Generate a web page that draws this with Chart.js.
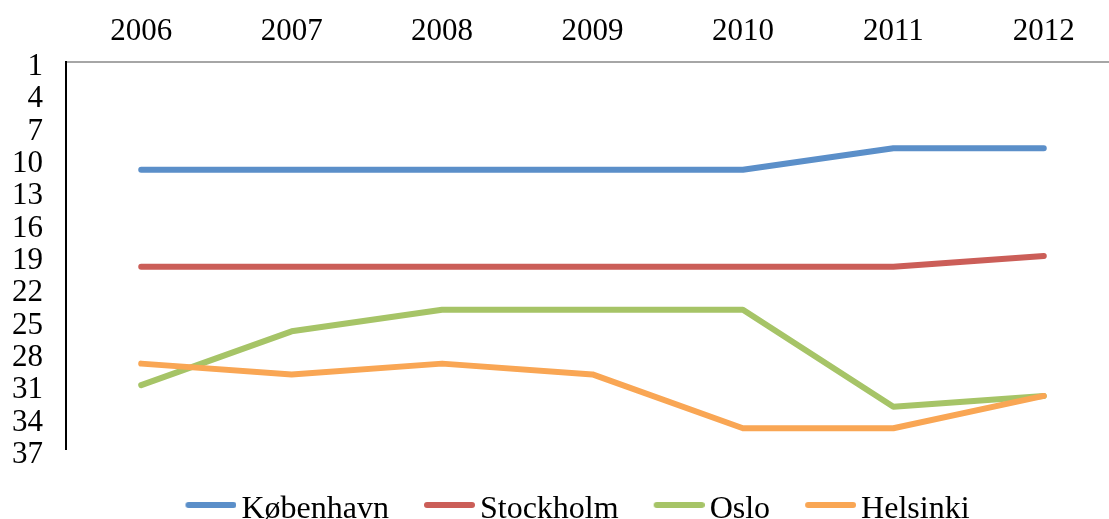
<!DOCTYPE html>
<html>
<head>
<meta charset="utf-8">
<script src="https://cdn.jsdelivr.net/npm/chart.js@4.4.1/dist/chart.umd.min.js"></script>
<style>
  html, body { margin: 0; padding: 0; background: #fff; overflow: hidden; }
  #wrap { position: relative; width: 1155px; height: 536px; }
</style>
</head>
<body>
<div id="wrap"><canvas id="rankChart"></canvas></div>
<script>
// years along the top axis
const years = ["2006", "2007", "2008", "2009", "2010", "2011", "2012"];

// rank per city (1 = best, axis is reversed)
const kobenhavn = [11, 11, 11, 11, 11, 9, 9];
const stockholm = [20, 20, 20, 20, 20, 20, 19];
const oslo = [31, 26, 24, 24, 24, 33, 32];
const helsinki = [29, 30, 29, 30, 35, 35, 32];

const cityNames = ["København", "Stockholm", "Oslo", "Helsinki"];
const cityColors = ["#5B8FC9", "#CB5E58", "#A6C467", "#F9A654"];

Chart.defaults.font.family = "'Liberation Serif', 'Times New Roman', serif";
Chart.defaults.font.size = 31;
Chart.defaults.color = "#000";

// legend swatch: a short thick line sitting just left of the text
function makeSwatch(color) {
    const c = document.createElement("canvas");
    c.width = 62;
    c.height = 20;
    const g = c.getContext("2d");
    g.strokeStyle = color;
    g.lineWidth = 6;
    g.lineCap = "round";
    g.beginPath();
    g.moveTo(14, 5);
    g.lineTo(59, 5);
    g.stroke();
    return c;
}

const series = [kobenhavn, stockholm, oslo, helsinki];
const datasets = series.map((values, i) => ({
    label: cityNames[i],
    data: values,
    borderColor: cityColors[i],
    backgroundColor: cityColors[i],
    borderWidth: 6,
    borderCapStyle: "round",
    borderJoinStyle: "round",
    pointRadius: 0,
    pointHoverRadius: 0,
    pointStyle: makeSwatch(cityColors[i]),
    tension: 0,
    fill: false,
    order: series.length - 1 - i
}));

const ctx = document.getElementById("rankChart").getContext("2d");
new Chart(ctx, {
    type: "line",
    data: { labels: years, datasets: datasets },
    options: {
        responsive: true,
        maintainAspectRatio: false,
        animation: false,
        layout: { padding: 0 },
        scales: {
            x: {
                position: "top",
                offset: true,
                grid: { drawOnChartArea: false, drawTicks: false },
                border: { color: "#a6a6a6", width: 2 },
                ticks: { padding: 12, maxRotation: 0, autoSkip: false },
                afterFit: scale => { scale.height = 62; }
            },
            y: {
                reverse: true,
                min: 1,
                max: 37,
                grid: { drawOnChartArea: false, drawTicks: false },
                border: { color: "#000", width: 2 },
                ticks: { stepSize: 3, autoSkip: false, padding: 23, labelOffset: 5 },
                afterFit: scale => { scale.width = 66; }
            },
            // empty right-hand strip, keeps the plot edge beyond the window like the original crop
            spacer: {
                position: "right",
                grid: { display: false },
                border: { display: false },
                ticks: { display: false },
                afterFit: scale => { scale.width = 36; }
            }
        },
        plugins: {
            tooltip: { enabled: false },
            legend: {
                position: "bottom",
                title: { display: true, text: " ", font: { size: 6 }, padding: 1 },
                labels: {
                    usePointStyle: true,
                    pointStyleWidth: 40,
                    padding: 35,
                    font: { size: 32 },
                    sort: (a, b) => a.datasetIndex - b.datasetIndex
                }
            }
        }
    }
});
</script>
</body>
</html>
